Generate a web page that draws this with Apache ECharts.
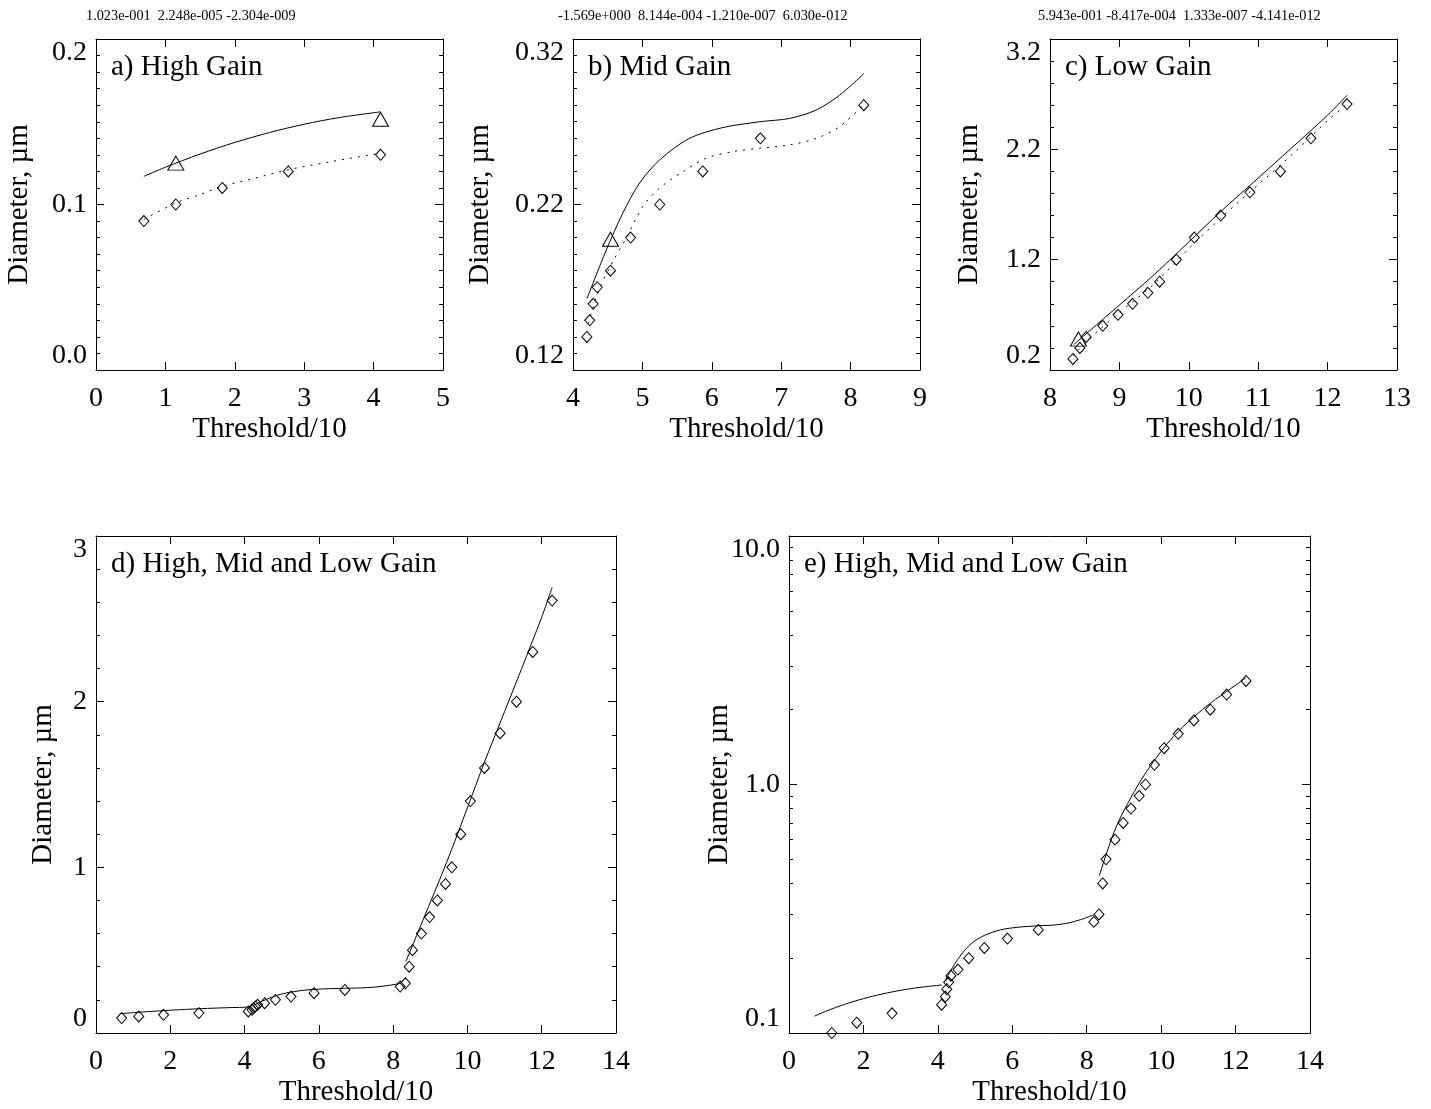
<!DOCTYPE html>
<html>
<head>
<meta charset="utf-8">
<title>Diameter vs Threshold</title>
<script src="https://cdn.jsdelivr.net/npm/echarts@6/dist/echarts.min.js"></script>
<style>
  html, body { margin: 0; padding: 0; background: #fff; }
  #main { width: 1431px; height: 1109px; }
</style>
</head>
<body>
<div id="main"></div>
<script>
// x = Threshold/10, y = Diameter (um)

// high gain
var highX = [0.69, 1.15, 1.82, 2.77, 4.10];
var highD = [0.090, 0.100, 0.110, 0.120, 0.130];
var highTriX = [1.15, 4.10];
var highTriD = [0.125, 0.1515];
var highFitX = [0.69, 1.0, 1.5, 2.0, 2.5, 3.0, 3.5, 4.1];
var highFitD = [0.117, 0.1225, 0.1305, 0.1375, 0.1435, 0.1485, 0.1525, 0.156];
var highDotX = [0.69, 1.15, 1.5, 1.82, 2.3, 2.77, 3.4, 4.10];
var highDotD = [0.091, 0.101, 0.106, 0.111, 0.116, 0.121, 0.126, 0.131];

// mid gain
var midX = [4.20, 4.24, 4.29, 4.35, 4.54, 4.83, 5.25, 5.87, 6.70, 8.19];
var midD = [0.140, 0.150, 0.160, 0.170, 0.180, 0.200, 0.220, 0.240, 0.260, 0.280];
var midTriX = [4.54];
var midTriD = [0.199];
var midFitX = [4.20, 4.48, 4.72, 4.96, 5.25, 5.68, 6.16, 6.69, 7.12, 7.50, 7.84, 8.19];
var midFitD = [0.163, 0.1925, 0.215, 0.233, 0.247, 0.260, 0.2665, 0.270, 0.272, 0.277, 0.286, 0.299];
var midDotX = [4.22, 4.37, 4.58, 4.77, 5.01, 5.25, 5.59, 5.92, 6.31, 6.69, 7.12, 7.51, 7.84, 8.19];
var midDotD = [0.148, 0.168, 0.186, 0.200, 0.219, 0.230, 0.240, 0.248, 0.252, 0.254, 0.256, 0.260, 0.267, 0.2805];

// low gain
var lowX = [8.33, 8.43, 8.52, 8.76, 8.98, 9.19, 9.41, 9.58, 9.82, 10.08, 10.46, 10.88, 11.32, 11.76, 12.28];
var lowD = [0.30, 0.40, 0.50, 0.60, 0.70, 0.80, 0.90, 1.00, 1.20, 1.40, 1.60, 1.81, 2.00, 2.30, 2.61];
var lowTriX = [8.41];
var lowTriD = [0.48];
var lowFitX = [8.34, 8.8, 9.44, 10.0, 10.45, 11.0, 11.46, 12.0, 12.28];
var lowFitD = [0.43, 0.68, 1.03, 1.36, 1.63, 1.94, 2.20, 2.51, 2.69];
var lowDotX = [8.33, 8.65, 9.0, 9.5, 10.0, 10.5, 11.0, 11.5, 12.0, 12.28];
var lowDotD = [0.33, 0.53, 0.72, 0.98, 1.30, 1.60, 1.88, 2.16, 2.46, 2.61];

// tick values
var yTicksA = [0.0, 0.1, 0.2];
var yMinorA = [0.01, 0.02, 0.03, 0.04, 0.05, 0.06, 0.07, 0.08, 0.09, 0.11, 0.12, 0.13, 0.14, 0.15, 0.16, 0.17, 0.18, 0.19];
var yTicksB = [0.12, 0.22, 0.32];
var yMinorB = [0.13, 0.14, 0.15, 0.16, 0.17, 0.18, 0.19, 0.20, 0.21, 0.23, 0.24, 0.25, 0.26, 0.27, 0.28, 0.29, 0.30, 0.31];
var yTicksC = [0.2, 1.2, 2.2, 3.2];
var yMinorC = [0.4, 0.6, 0.8, 1.0, 1.4, 1.6, 1.8, 2.0, 2.4, 2.6, 2.8, 3.0];
var yTicksD = [0, 1, 2, 3];
var yMinorD = [0.2, 0.4, 0.6, 0.8, 1.2, 1.4, 1.6, 1.8, 2.2, 2.4, 2.6, 2.8];
var yTicksE = [0.1, 1, 10];
var yMinorE = [0.2, 0.3, 0.4, 0.5, 0.6, 0.7, 0.8, 0.9, 2, 3, 4, 5, 6, 7, 8, 9];

var panelNames = ['a) High Gain', 'b) Mid Gain', 'c) Low Gain',
    'd) High, Mid and Low Gain', 'e) High, Mid and Low Gain'];
var coefText = ['1.023e-001  2.248e-005 -2.304e-009',
    '-1.569e+000  8.144e-004 -1.210e-007  6.030e-012',
    '5.943e-001 -8.417e-004  1.333e-007 -4.141e-012'];

var FONT = "'Liberation Serif', 'Times New Roman', serif";
var BLACK = '#000';

var grids = [
    { left: 96, top: 39, width: 347, height: 331 },
    { left: 573, top: 39, width: 347, height: 331 },
    { left: 1050, top: 39, width: 347, height: 331 },
    { left: 96, top: 536, width: 520, height: 497 },
    { left: 789, top: 536, width: 521, height: 497 }
];
grids.forEach(function (g) { g.outerBoundsMode = 'none'; g.containLabel = false; });

var xAxisList = [];
var yAxisList = [];
var seriesList = [];
var graphicList = [];

function pairs(xs, ys) {
    return xs.map(function (x, i) { return [x, ys[i]]; });
}

function addXAxes(gi, min, max, step) {
    var line = { show: true, onZero: false, lineStyle: { color: BLACK, width: 1 } };
    var tick = { show: true, inside: true, length: 8, lineStyle: { color: BLACK, width: 1 } };
    xAxisList.push({
        gridIndex: gi, type: 'value', position: 'bottom', min: min, max: max, interval: step,
        splitLine: { show: false }, axisLine: line, axisTick: tick,
        name: 'Threshold/10', nameLocation: 'middle', nameGap: 45, nameMoveOverlap: false,
        nameTextStyle: { fontFamily: FONT, fontSize: 29, color: BLACK },
        axisLabel: { show: true, margin: 15, fontFamily: FONT, fontSize: 28, color: BLACK,
            hideOverlap: false, showMinLabel: true, showMaxLabel: true }
    });
    xAxisList.push({
        gridIndex: gi, type: 'value', position: 'top', min: min, max: max, interval: step,
        splitLine: { show: false }, axisLine: line, axisTick: tick, axisLabel: { show: false }
    });
}

function addYAxes(gi, type, min, max, majors, minors, fmt, nameGap) {
    function axis(pos, ticks, len, drawLine) {
        var a = {
            gridIndex: gi, type: type, position: pos, min: min, max: max,
            splitLine: { show: false },
            axisLine: { show: drawLine, onZero: false, lineStyle: { color: BLACK, width: 1 } },
            axisTick: { show: true, inside: true, length: len, customValues: ticks,
                lineStyle: { color: BLACK, width: 1 } },
            minorTick: { show: false },
            axisLabel: { show: false }
        };
        if (type === 'log') a.logBase = 10;
        return a;
    }
    var left = axis('left', majors, 8, true);
    left.axisLabel = {
        show: true, customValues: majors, formatter: fmt, margin: 9,
        fontFamily: FONT, fontSize: 28, color: BLACK,
        verticalAlignMinLabel: 'bottom', verticalAlignMaxLabel: 'top',
        hideOverlap: false, showMinLabel: true, showMaxLabel: true
    };
    left.name = 'Diameter, \u00b5m';
    left.nameLocation = 'middle';
    left.nameRotate = 90;
    left.nameGap = nameGap;
    left.nameMoveOverlap = false;
    left.nameTextStyle = { fontFamily: FONT, fontSize: 29, color: BLACK };
    yAxisList.push(left);
    yAxisList.push(axis('left', minors, 4, false));
    yAxisList.push(axis('right', majors, 8, true));
    yAxisList.push(axis('right', minors, 4, false));
}

function lineSeries(gi, xs, ys, dotted) {
    return {
        type: 'line', xAxisIndex: 2 * gi, yAxisIndex: 4 * gi, data: pairs(xs, ys),
        symbol: 'none', smooth: 0.3, silent: true, z: 2,
        lineStyle: { color: BLACK, width: 1, type: dotted ? [2, 6] : 'solid' }
    };
}

function markSeries(gi, xs, ys, sym, size) {
    return {
        type: 'scatter', xAxisIndex: 2 * gi, yAxisIndex: 4 * gi, data: pairs(xs, ys),
        symbol: sym, symbolSize: size, silent: true, z: 3,
        itemStyle: { color: 'rgba(0,0,0,0)', borderColor: BLACK, borderWidth: 1, opacity: 1 }
    };
}

function fix(n) { return function (v) { return Number(v).toFixed(n); }; }

// axes
addXAxes(0, 0, 5, 1);
addXAxes(1, 4, 9, 1);
addXAxes(2, 8, 13, 1);
addXAxes(3, 0, 14, 2);
addXAxes(4, 0, 14, 2);

addYAxes(0, 'value', 0, 0.2, yTicksA, yMinorA, fix(1), 62);
addYAxes(1, 'value', 0.12, 0.32, yTicksB, yMinorB, fix(2), 78);
addYAxes(2, 'value', 0.2, 3.2, yTicksC, yMinorC, fix(1), 66);
addYAxes(3, 'value', 0, 3, yTicksD, yMinorD, fix(0), 38);
addYAxes(4, 'log', 0.1, 10, yTicksE, yMinorE, fix(1), 55);

// a) high gain
seriesList.push(lineSeries(0, highFitX, highFitD, false));
seriesList.push(lineSeries(0, highDotX, highDotD, true));
seriesList.push(markSeries(0, highX, highD, 'diamond', [10, 11]));
seriesList.push(markSeries(0, highTriX, highTriD, 'triangle', [16, 14]));

// b) mid gain
seriesList.push(lineSeries(1, midFitX, midFitD, false));
seriesList.push(lineSeries(1, midDotX, midDotD, true));
seriesList.push(markSeries(1, midX, midD, 'diamond', [10, 11]));
seriesList.push(markSeries(1, midTriX, midTriD, 'triangle', [16, 14]));

// c) low gain
seriesList.push(lineSeries(2, lowFitX, lowFitD, false));
seriesList.push(lineSeries(2, lowDotX, lowDotD, true));
seriesList.push(markSeries(2, lowX, lowD, 'diamond', [10, 11]));
seriesList.push(markSeries(2, lowTriX, lowTriD, 'triangle', [16, 14]));

// d) and e) all three gains
[3, 4].forEach(function (gi) {
    seriesList.push(lineSeries(gi, highFitX, highFitD, false));
    seriesList.push(lineSeries(gi, midFitX, midFitD, false));
    seriesList.push(lineSeries(gi, lowFitX, lowFitD, false));
    seriesList.push(markSeries(gi, highX, highD, 'diamond', [10, 11]));
    seriesList.push(markSeries(gi, midX, midD, 'diamond', [10, 11]));
    seriesList.push(markSeries(gi, lowX, lowD, 'diamond', [10, 11]));
});

// panel captions
grids.forEach(function (g, i) {
    graphicList.push({
        type: 'text', x: g.left + 15, y: g.top + 28.5, silent: true,
        style: { text: panelNames[i], fontFamily: FONT, fontSize: 29, fill: BLACK,
            align: 'left', verticalAlign: 'middle' }
    });
});

// fit coefficients above the top row
var coefLeft = [86, 558, 1038];
coefText.forEach(function (t, i) {
    graphicList.push({
        type: 'text', x: coefLeft[i], y: 16.5, silent: true,
        style: { text: t, fontFamily: FONT, fontSize: 14.3, fill: BLACK,
            align: 'left', verticalAlign: 'middle' }
    });
});

var chart = echarts.init(document.getElementById('main'), null, { renderer: 'canvas' });
chart.setOption({
    animation: false,
    backgroundColor: '#fff',
    grid: grids,
    xAxis: xAxisList,
    yAxis: yAxisList,
    series: seriesList,
    graphic: graphicList
});
</script>
</body>
</html>
